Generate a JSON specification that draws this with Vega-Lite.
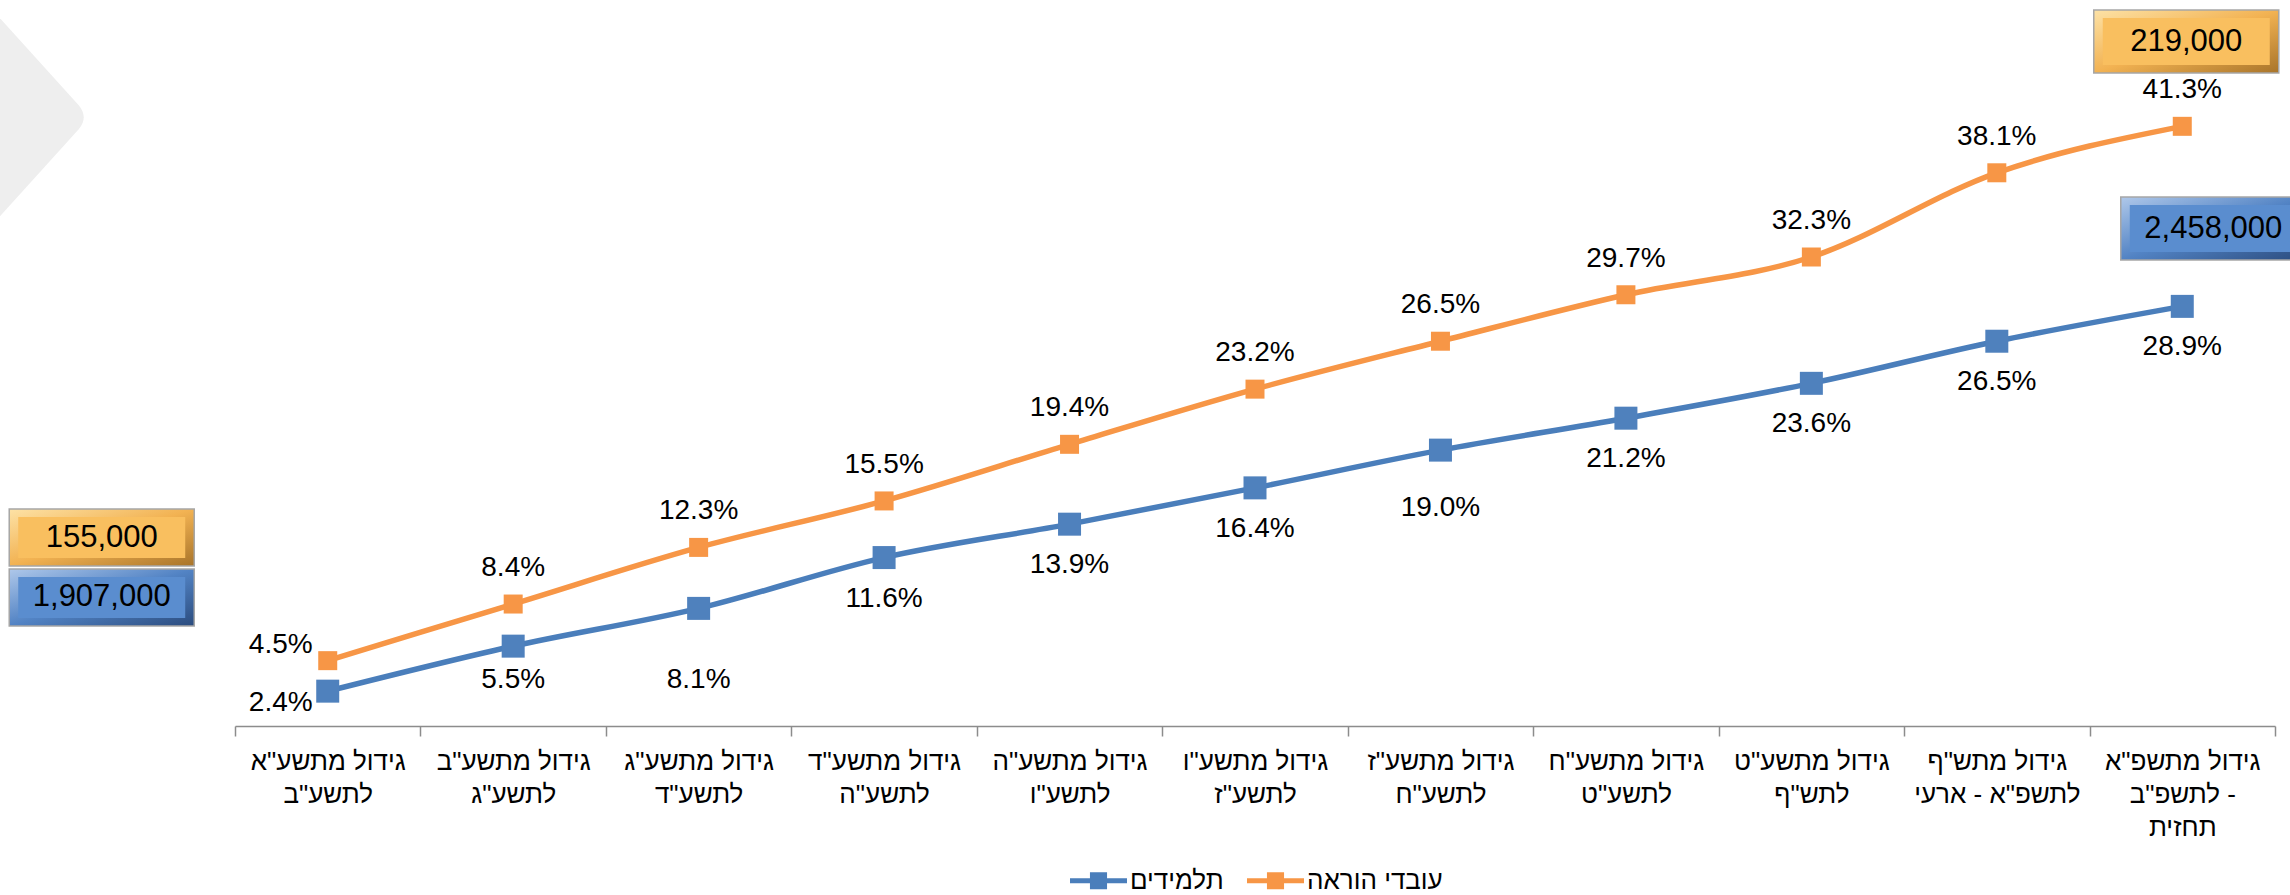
{
  "$schema": "https://vega.github.io/schema/vega-lite/v6.json",
  "width": 2040,
  "height": 726,
  "autosize": {"type": "none"},
  "padding": {"left": 235, "right": 15, "top": 0, "bottom": 169},
  "background": "white",
  "config": {
    "view": {"stroke": null},
    "font": "Liberation Sans",
    "text": {"font": "Liberation Sans", "fontSize": 28, "color": "black", "align": "center", "baseline": "middle"},
    "axis": {
      "title": null,
      "labelExpr": "isString(datum.value) ? split(datum.value, '|') : ''",
      "labelFontSize": 26,
      "labelFont": "Liberation Sans",
      "labelColor": "black",
      "labelLineHeight": 33,
      "labelAngle": 0,
      "labelPadding": 12,
      "labelOverlap": false,
      "labelBound": false,
      "labelLimit": 0,
      "tickSize": 10,
      "tickBand": "extent",
      "tickColor": "#8C8C8C",
      "tickWidth": 1.5,
      "domainColor": "#8C8C8C",
      "domainWidth": 1.5,
      "grid": false
    }
  },
  "datasets": {
    "growth": [
      {"category": "גידול מתשע\"א|לתשע\"ב", "series": "תלמידים", "pct": 0.024, "base_count": 1907000},
      {"category": "גידול מתשע\"ב|לתשע\"ג", "series": "תלמידים", "pct": 0.055},
      {"category": "גידול מתשע\"ג|לתשע\"ד", "series": "תלמידים", "pct": 0.081},
      {"category": "גידול מתשע\"ד|לתשע\"ה", "series": "תלמידים", "pct": 0.116},
      {"category": "גידול מתשע\"ה|לתשע\"ו", "series": "תלמידים", "pct": 0.139},
      {"category": "גידול מתשע\"ו|לתשע\"ז", "series": "תלמידים", "pct": 0.164},
      {"category": "גידול מתשע\"ז|לתשע\"ח", "series": "תלמידים", "pct": 0.190},
      {"category": "גידול מתשע\"ח|לתשע\"ט", "series": "תלמידים", "pct": 0.212},
      {"category": "גידול מתשע\"ט|לתש\"ף", "series": "תלמידים", "pct": 0.236},
      {"category": "גידול מתש\"ף|לתשפ\"א - ארעי", "series": "תלמידים", "pct": 0.265},
      {"category": "גידול מתשפ\"א|לתשפ\"ב -|תחזית", "series": "תלמידים", "pct": 0.289, "final_count": 2458000},
      {"category": "גידול מתשע\"א|לתשע\"ב", "series": "עובדי הוראה", "pct": 0.045, "base_count": 155000},
      {"category": "גידול מתשע\"ב|לתשע\"ג", "series": "עובדי הוראה", "pct": 0.084},
      {"category": "גידול מתשע\"ג|לתשע\"ד", "series": "עובדי הוראה", "pct": 0.123},
      {"category": "גידול מתשע\"ד|לתשע\"ה", "series": "עובדי הוראה", "pct": 0.155},
      {"category": "גידול מתשע\"ה|לתשע\"ו", "series": "עובדי הוראה", "pct": 0.194},
      {"category": "גידול מתשע\"ו|לתשע\"ז", "series": "עובדי הוראה", "pct": 0.232},
      {"category": "גידול מתשע\"ז|לתשע\"ח", "series": "עובדי הוראה", "pct": 0.265},
      {"category": "גידול מתשע\"ח|לתשע\"ט", "series": "עובדי הוראה", "pct": 0.297},
      {"category": "גידול מתשע\"ט|לתש\"ף", "series": "עובדי הוראה", "pct": 0.323},
      {"category": "גידול מתש\"ף|לתשפ\"א - ארעי", "series": "עובדי הוראה", "pct": 0.381},
      {"category": "גידול מתשפ\"א|לתשפ\"ב -|תחזית", "series": "עובדי הוראה", "pct": 0.413, "final_count": 219000}
    ]
  },
  "data": {"name": "growth"},
  "encoding": {
    "x": {
      "field": "category",
      "type": "nominal",
      "sort": null,
      "scale": {
        "type": "band",
        "paddingInner": 0,
        "paddingOuter": 0,
        "domain": [
          "גידול מתשע\"א|לתשע\"ב",
          "גידול מתשע\"ב|לתשע\"ג",
          "גידול מתשע\"ג|לתשע\"ד",
          "גידול מתשע\"ד|לתשע\"ה",
          "גידול מתשע\"ה|לתשע\"ו",
          "גידול מתשע\"ו|לתשע\"ז",
          "גידול מתשע\"ז|לתשע\"ח",
          "גידול מתשע\"ח|לתשע\"ט",
          "גידול מתשע\"ט|לתש\"ף",
          "גידול מתש\"ף|לתשפ\"א - ארעי",
          "גידול מתשפ\"א|לתשפ\"ב -|תחזית"
        ]
      }
    },
    "y": {"field": "pct", "type": "quantitative", "scale": {"domain": [0, 0.5], "nice": false, "zero": true}, "axis": null}
  },
  "layer": [
    {
      "transform": [{"filter": {"and": [{"field": "series", "equal": "עובדי הוראה"}, {"field": "category", "equal": "גידול מתשע\"א|לתשע\"ב"}]}}],
      "mark": {"type": "point", "shape": "M-420,-200L-249,-11Q-239,1 -249,13L-420,202Z", "size": 4, "filled": true, "fill": "#EEEEEE", "strokeWidth": 0, "opacity": 1},
      "encoding": {"y": {"datum": 0.42, "type": "quantitative"}}
    },
    {
      "mark": {"type": "line", "interpolate": "monotone", "strokeWidth": 5.5, "strokeCap": "round"},
      "encoding": {
        "color": {
          "field": "series",
          "type": "nominal",
          "scale": {"domain": ["תלמידים", "עובדי הוראה"], "range": ["#4A7EBB", "#F79646"]},
          "legend": {
            "orient": "none",
            "legendX": 835,
            "legendY": 852,
            "direction": "horizontal",
            "title": null,
            "symbolType": "M-1,-0.088H1V0.088H-1Z M-0.3,-0.3H0.3V0.3H-0.3Z",
            "symbolSize": 3249,
            "symbolStrokeWidth": 0,
            "labelFontSize": 26,
            "labelFont": "Liberation Sans",
            "labelColor": "black",
            "labelOffset": 3,
            "columnPadding": 23,
            "padding": 0,
            "symbolOpacity": 1,
            "encode": {"symbols": {"update": {"fill": {"scale": "color", "field": "value"}, "fillOpacity": {"value": 1}, "strokeWidth": {"value": 0}}}}
          }
        }
      }
    },
    {
      "transform": [{"filter": {"field": "series", "equal": "תלמידים"}}],
      "mark": {"type": "point", "shape": "square", "filled": true, "size": 529, "opacity": 1, "color": "#4F81BD"}
    },
    {
      "transform": [{"filter": {"field": "series", "equal": "עובדי הוראה"}}],
      "mark": {"type": "point", "shape": "square", "filled": true, "size": 361, "opacity": 1, "color": "#F79646"}
    },
    {
      "transform": [{"filter": {"and": [{"field": "series", "equal": "עובדי הוראה"}, {"not": {"field": "category", "equal": "גידול מתשע\"א|לתשע\"ב"}}]}}],
      "mark": {"type": "text", "dy": -36},
      "encoding": {"text": {"field": "pct", "type": "quantitative", "format": ".1%"}}
    },
    {
      "transform": [{"filter": {"and": [{"field": "series", "equal": "עובדי הוראה"}, {"field": "category", "equal": "גידול מתשע\"א|לתשע\"ב"}]}}],
      "mark": {"type": "text", "dx": -47, "dy": -16},
      "encoding": {"text": {"field": "pct", "type": "quantitative", "format": ".1%"}}
    },
    {
      "transform": [{"filter": {"and": [{"field": "series", "equal": "תלמידים"}, {"not": {"field": "category", "oneOf": ["גידול מתשע\"א|לתשע\"ב", "גידול מתשע\"ב|לתשע\"ג", "גידול מתשע\"ג|לתשע\"ד", "גידול מתשע\"ז|לתשע\"ח"]}}]}}],
      "mark": {"type": "text", "dy": 41},
      "encoding": {"text": {"field": "pct", "type": "quantitative", "format": ".1%"}}
    },
    {
      "transform": [{"filter": {"and": [{"field": "series", "equal": "תלמידים"}, {"field": "category", "equal": "גידול מתשע\"א|לתשע\"ב"}]}}],
      "mark": {"type": "text", "dx": -47, "dy": 12},
      "encoding": {"text": {"field": "pct", "type": "quantitative", "format": ".1%"}}
    },
    {
      "transform": [{"filter": {"and": [{"field": "series", "equal": "תלמידים"}, {"field": "category", "equal": "גידול מתשע\"ב|לתשע\"ג"}]}}],
      "mark": {"type": "text", "dy": 34},
      "encoding": {"text": {"field": "pct", "type": "quantitative", "format": ".1%"}}
    },
    {
      "transform": [{"filter": {"and": [{"field": "series", "equal": "תלמידים"}, {"field": "category", "equal": "גידול מתשע\"ג|לתשע\"ד"}]}}],
      "mark": {"type": "text", "dy": 72},
      "encoding": {"text": {"field": "pct", "type": "quantitative", "format": ".1%"}}
    },
    {
      "transform": [{"filter": {"and": [{"field": "series", "equal": "תלמידים"}, {"field": "category", "equal": "גידול מתשע\"ז|לתשע\"ח"}]}}],
      "mark": {"type": "text", "dy": 58},
      "encoding": {"text": {"field": "pct", "type": "quantitative", "format": ".1%"}}
    },
    {
      "transform": [{"filter": {"and": [{"field": "series", "equal": "עובדי הוראה"}, {"field": "category", "equal": "גידול מתשע\"א|לתשע\"ב"}]}}],
      "mark": {"type": "point", "shape": "M-318.5,-28.5H-133.5V28.5H-318.5Z", "size": 4, "filled": true, "opacity": 1, "stroke": "#A6A6A6", "strokeWidth": 1.5,
        "fill": {"gradient": "linear", "x1": 0, "y1": 0, "x2": 1, "y2": 1, "stops": [
          {"offset": 0, "color": "#FDE2A6"}, {"offset": 0.5, "color": "#F2B252"}, {"offset": 1, "color": "#A8742A"}]}},
      "encoding": {"y": {"datum": 0.1298, "type": "quantitative"}}
    },
    {
      "transform": [{"filter": {"and": [{"field": "series", "equal": "עובדי הוראה"}, {"field": "category", "equal": "גידול מתשע\"א|לתשע\"ב"}]}}],
      "mark": {"type": "point", "shape": "M-309.5,-20.5H-142.5V20.5H-309.5Z", "size": 4, "filled": true, "opacity": 1, "strokeWidth": 0, "fill": "#F9BF5F"},
      "encoding": {"y": {"datum": 0.1298, "type": "quantitative"}}
    },
    {
      "transform": [{"filter": {"and": [{"field": "series", "equal": "עובדי הוראה"}, {"field": "category", "equal": "גידול מתשע\"א|לתשע\"ב"}]}}],
      "mark": {"type": "text", "fontSize": 31, "dx": -226},
      "encoding": {"y": {"datum": 0.1298, "type": "quantitative"}, "text": {"field": "base_count", "type": "quantitative", "format": ","}}
    },
    {
      "transform": [{"filter": {"and": [{"field": "series", "equal": "תלמידים"}, {"field": "category", "equal": "גידול מתשע\"א|לתשע\"ב"}]}}],
      "mark": {"type": "point", "shape": "M-318.5,-28.5H-133.5V28.5H-318.5Z", "size": 4, "filled": true, "opacity": 1, "stroke": "#A6A6A6", "strokeWidth": 1.5,
        "fill": {"gradient": "linear", "x1": 0, "y1": 0, "x2": 1, "y2": 1, "stops": [
          {"offset": 0, "color": "#AFC8EA"}, {"offset": 0.5, "color": "#5283C4"}, {"offset": 1, "color": "#2B4C7E"}]}},
      "encoding": {"y": {"datum": 0.0885, "type": "quantitative"}}
    },
    {
      "transform": [{"filter": {"and": [{"field": "series", "equal": "תלמידים"}, {"field": "category", "equal": "גידול מתשע\"א|לתשע\"ב"}]}}],
      "mark": {"type": "point", "shape": "M-309.5,-20.5H-142.5V20.5H-309.5Z", "size": 4, "filled": true, "opacity": 1, "strokeWidth": 0, "fill": "#5A8DCF"},
      "encoding": {"y": {"datum": 0.0885, "type": "quantitative"}}
    },
    {
      "transform": [{"filter": {"and": [{"field": "series", "equal": "תלמידים"}, {"field": "category", "equal": "גידול מתשע\"א|לתשע\"ב"}]}}],
      "mark": {"type": "text", "fontSize": 31, "dx": -226},
      "encoding": {"y": {"datum": 0.0885, "type": "quantitative"}, "text": {"field": "base_count", "type": "quantitative", "format": ","}}
    },
    {
      "transform": [{"filter": {"and": [{"field": "series", "equal": "עובדי הוראה"}, {"field": "category", "equal": "גידול מתשפ\"א|לתשפ\"ב -|תחזית"}]}}],
      "mark": {"type": "point", "shape": "M-88.5,-31.5H96.5V31.5H-88.5Z", "size": 4, "filled": true, "opacity": 1, "stroke": "#A6A6A6", "strokeWidth": 1.5,
        "fill": {"gradient": "linear", "x1": 0, "y1": 0, "x2": 1, "y2": 1, "stops": [
          {"offset": 0, "color": "#FDE2A6"}, {"offset": 0.5, "color": "#F2B252"}, {"offset": 1, "color": "#A8742A"}]}},
      "encoding": {"y": {"datum": 0.4714, "type": "quantitative"}}
    },
    {
      "transform": [{"filter": {"and": [{"field": "series", "equal": "עובדי הוראה"}, {"field": "category", "equal": "גידול מתשפ\"א|לתשפ\"ב -|תחזית"}]}}],
      "mark": {"type": "point", "shape": "M-79.5,-23.5H87.5V23.5H-79.5Z", "size": 4, "filled": true, "opacity": 1, "strokeWidth": 0, "fill": "#F9BF5F"},
      "encoding": {"y": {"datum": 0.4714, "type": "quantitative"}}
    },
    {
      "transform": [{"filter": {"and": [{"field": "series", "equal": "עובדי הוראה"}, {"field": "category", "equal": "גידול מתשפ\"א|לתשפ\"ב -|תחזית"}]}}],
      "mark": {"type": "text", "fontSize": 31, "dx": 4},
      "encoding": {"y": {"datum": 0.4714, "type": "quantitative"}, "text": {"field": "final_count", "type": "quantitative", "format": ","}}
    },
    {
      "transform": [{"filter": {"and": [{"field": "series", "equal": "תלמידים"}, {"field": "category", "equal": "גידול מתשפ\"א|לתשפ\"ב -|תחזית"}]}}],
      "mark": {"type": "point", "shape": "M-61.5,-31.5H123.5V31.5H-61.5Z", "size": 4, "filled": true, "opacity": 1, "stroke": "#A6A6A6", "strokeWidth": 1.5,
        "fill": {"gradient": "linear", "x1": 0, "y1": 0, "x2": 1, "y2": 1, "stops": [
          {"offset": 0, "color": "#AFC8EA"}, {"offset": 0.5, "color": "#5283C4"}, {"offset": 1, "color": "#2B4C7E"}]}},
      "encoding": {"y": {"datum": 0.3426, "type": "quantitative"}}
    },
    {
      "transform": [{"filter": {"and": [{"field": "series", "equal": "תלמידים"}, {"field": "category", "equal": "גידול מתשפ\"א|לתשפ\"ב -|תחזית"}]}}],
      "mark": {"type": "point", "shape": "M-52.5,-23.5H114.5V23.5H-52.5Z", "size": 4, "filled": true, "opacity": 1, "strokeWidth": 0, "fill": "#5A8DCF"},
      "encoding": {"y": {"datum": 0.3426, "type": "quantitative"}}
    },
    {
      "transform": [{"filter": {"and": [{"field": "series", "equal": "תלמידים"}, {"field": "category", "equal": "גידול מתשפ\"א|לתשפ\"ב -|תחזית"}]}}],
      "mark": {"type": "text", "fontSize": 31, "dx": 31},
      "encoding": {"y": {"datum": 0.3426, "type": "quantitative"}, "text": {"field": "final_count", "type": "quantitative", "format": ","}}
    }
  ]
}
